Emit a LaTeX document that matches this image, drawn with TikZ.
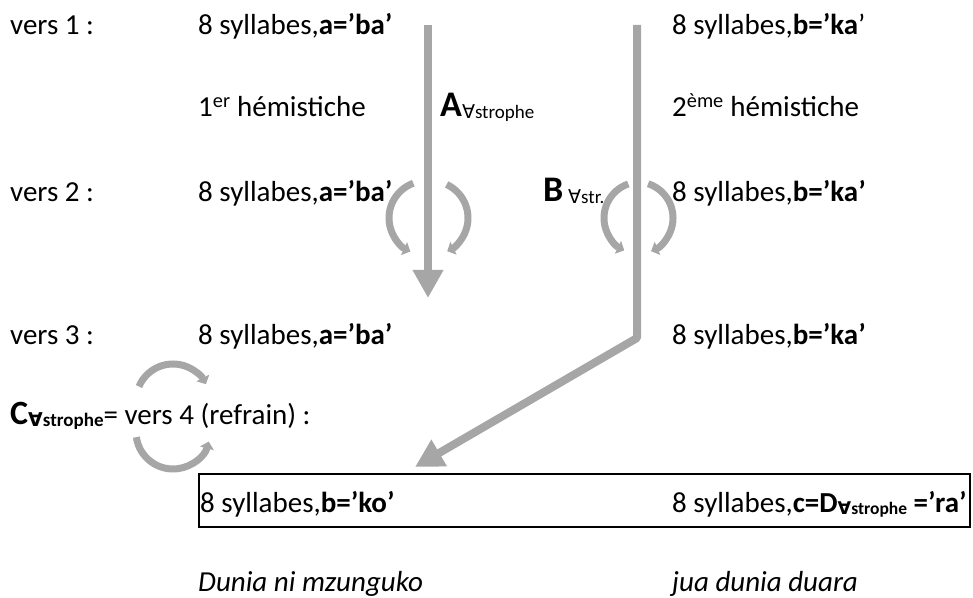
\documentclass[tikz,border=0pt]{standalone}
\usepackage{fontspec}
\setmainfont{Carlito}
\newfontfamily\symfont{DejaVu Sans}
\usetikzlibrary{arrows.meta}
\definecolor{arrowgray}{RGB}{166,166,166}
\newcommand{\fa}{{\symfont ∀}}
\newcommand{\subtxt}[1]{\raisebox{-2pt}{\fontsize{19}{21}\selectfont #1}}
\newcommand{\subtxtD}[1]{\raisebox{-2pt}{\fontsize{17.5}{20}\selectfont #1}}
\tikzset{
  txt/.style={anchor=base west, inner sep=0pt, font=\fontsize{29}{34}\selectfont},
  bigarrow/.style={draw=arrowgray, line width=8pt, -{Triangle[width=29pt 0,length=28pt 0]}},
  smallarc/.style={draw=arrowgray, line width=7pt, -{Triangle[width=14pt 0,length=7pt 0]}},
}
\begin{document}
\begin{tikzpicture}[x=1pt,y=1pt]
\useasboundingbox (0,0) rectangle (973,597);
% rows
\node[txt] (v1) at (10,562) {vers 1 :};
\node[txt] (r1a) at (198,562) {8 syllabes,\textbf{a=’ba’}};
\node[txt] (r1b) at (672,562) {8 syllabes,\textbf{b=’ka}’};
\node[txt] (h1) at (198,480) {1\textsuperscript{er} hémistiche};
\node[txt] (lA) at (440,480) {{\fontsize{36}{40}\selectfont\bfseries A}\subtxt{\fa strophe}};
\node[txt] (h2) at (672,480) {2\textsuperscript{ème} hémistiche};
\node[txt] (v2) at (10,395) {vers 2 :};
\node[txt] (r2a) at (198,395) {8 syllabes,\textbf{a=’ba’}};
\node[txt] (lB) at (543,395) {{\fontsize{36}{40}\selectfont\bfseries B}\,\subtxt{\fa str.}};
\node[txt] (r2b) at (672,395) {8 syllabes,\textbf{b=’ka’}};
\node[txt] (v3) at (10,252) {vers 3 :};
\node[txt] (r3a) at (198,252) {8 syllabes,\textbf{a=’ba’}};
\node[txt] (r3b) at (672,252) {8 syllabes,\textbf{b=’ka’}};
\node[txt] (lC) at (10,172) {{\fontsize{34}{38}\selectfont\bfseries C}\subtxt{\bfseries\fa strophe}= vers 4 (refrain) :};
% refrain box
\node[draw, line width=2pt, minimum width=771pt, minimum height=53pt, anchor=north west, inner sep=0pt] (box) at (198,124) {};
\node[txt] (r4a) at (200,85) {8 syllabes,\textbf{b=’ko’}};
\node[txt] (r4b) at (672,85) {8 syllabes,\textbf{c=D\subtxtD{\fa strophe} =’ra’}};
\node[txt] (t1) at (198,6) {\itshape Dunia ni mzunguko};
\node[txt] (t2) at (672,6) {\itshape jua dunia duara};
% main arrows
\coordinate (aS) at (428,572);
\coordinate (aE) at (428,299);
\draw[bigarrow] (aS) -- (aE);
\coordinate (bS) at (637,572);
\coordinate (bK) at (637,259);
\coordinate (bE) at (415,130);
\draw[bigarrow, line join=bevel] (bS) -- (bK) -- (bE);
% circular arrows
\coordinate (cAL) at (426,379);
\coordinate (cAR) at (431,379);
\coordinate (cBL) at (640,379);
\coordinate (cBR) at (637,379);
\coordinate (cCT) at (173,196);
\coordinate (cCB) at (173,165);
\draw[smallarc] ([shift={(110:37)}]cAL) arc[start angle=110,end angle=245,radius=37];
\draw[smallarc] ([shift={(65:37)}]cAR) arc[start angle=65,end angle=-64,radius=37];
\draw[smallarc] ([shift={(109:36)}]cBL) arc[start angle=109,end angle=244,radius=36];
\draw[smallarc] ([shift={(72:36)}]cBR) arc[start angle=72,end angle=-67,radius=36];
\draw[smallarc] ([shift={(157:37)}]cCT) arc[start angle=157,end angle=27,radius=37];
\draw[smallarc] ([shift={(188:37)}]cCB) arc[start angle=188,end angle=345,radius=37];
\end{tikzpicture}
\end{document}
